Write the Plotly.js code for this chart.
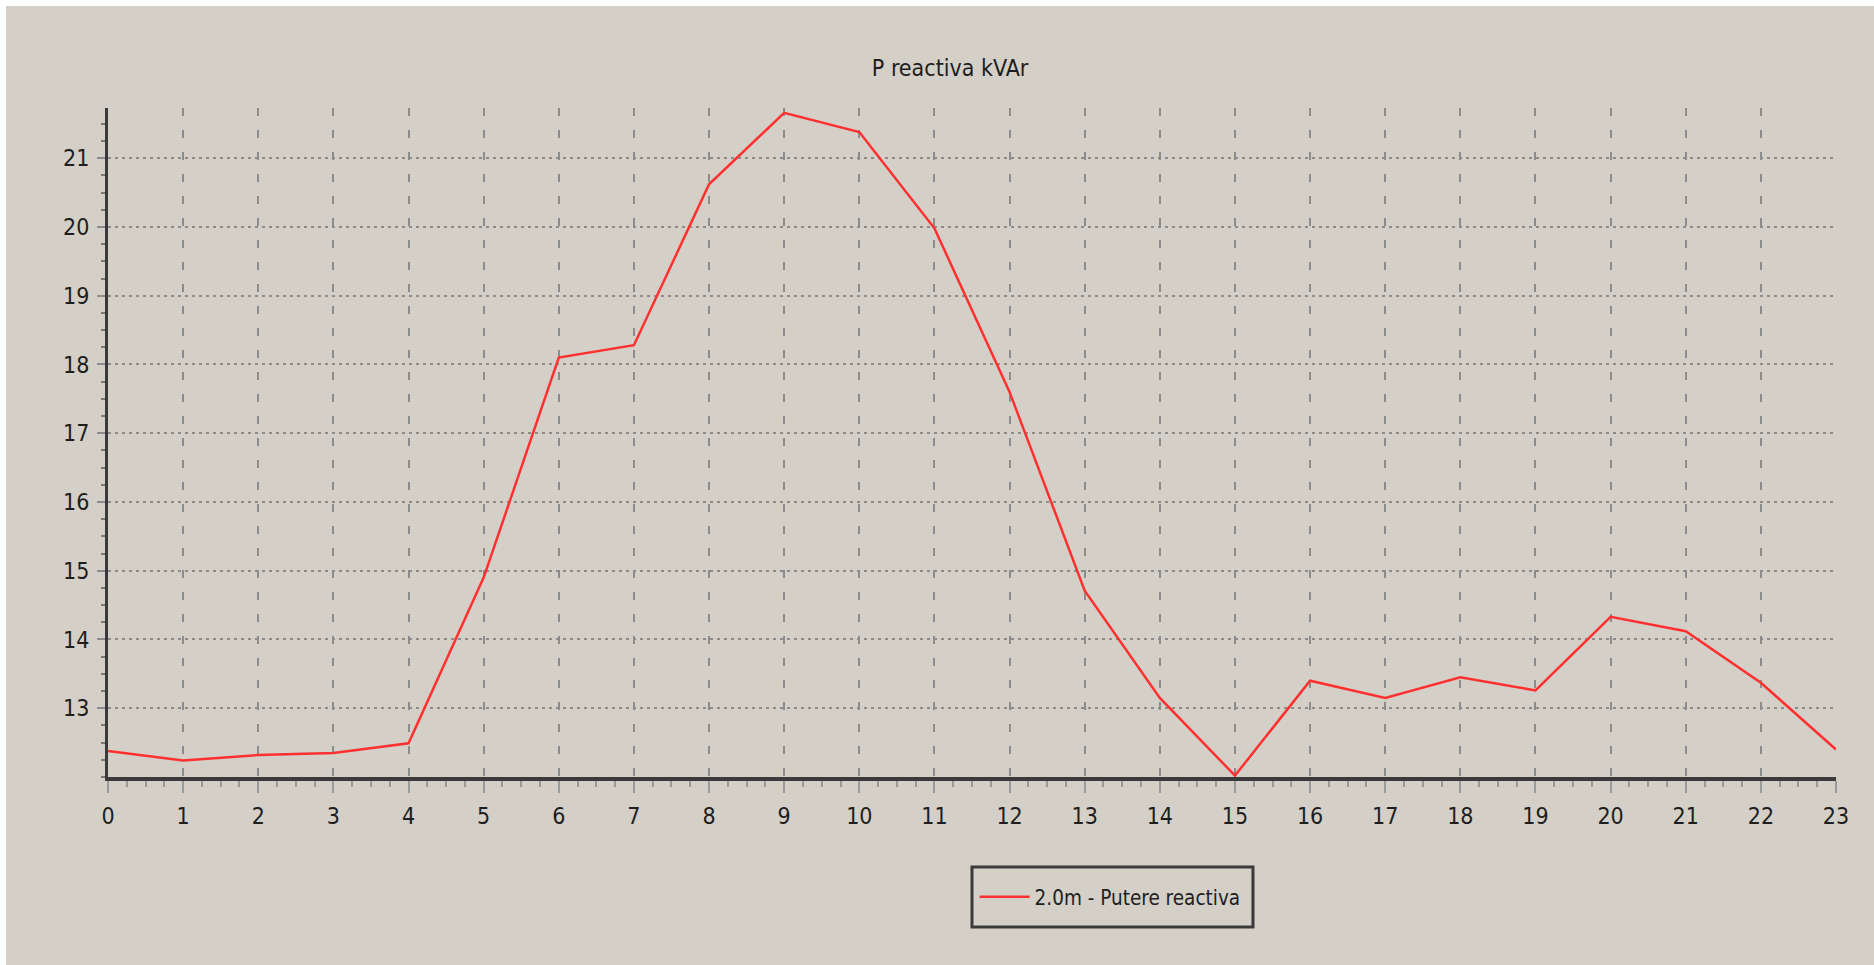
<!DOCTYPE html>
<html>
<head>
<meta charset="utf-8">
<script src="https://cdn.plot.ly/plotly-3.0.1.min.js"></script>
<style>
  html, body { margin: 0; padding: 0; background: #ffffff; width: 1874px; height: 965px; overflow: hidden; }
  #chart { position: absolute; left: 6px; top: 6px; width: 1868px; height: 959px; }
</style>
</head>
<body>
<div id="chart"></div>
<script>
const hours = [0, 1, 2, 3, 4, 5, 6, 7, 8, 9, 10, 11, 12, 13, 14, 15, 16, 17, 18, 19, 20, 21, 22, 23];
const reactivePower = [12.38, 12.24, 12.32, 12.35, 12.49, 14.9, 18.1, 18.28, 20.62, 21.66, 21.38, 19.98,
                       17.6, 14.71, 13.15, 12.02, 13.4, 13.15, 13.45, 13.26, 14.33, 14.12, 13.37, 12.4];
const xTickVals = [0, 1, 2, 3, 4, 5, 6, 7, 8, 9, 10, 11, 12, 13, 14, 15, 16, 17, 18, 19, 20, 21, 22, 23];
const yTickVals = [13, 14, 15, 16, 17, 18, 19, 20, 21];
const seriesName = "2.0m - Putere reactiva";
const chartTitle = "P reactiva kVAr";

const FONT = "Liberation Sans Narrow, Arial Narrow, DejaVu Sans Condensed, Liberation Sans, sans-serif";
const BG = "#d4d0c8";
const TXT = "#1e1e1e";
const GRID = "#8c8c8c";

const trace = {
  x: hours,
  y: reactivePower,
  type: "scatter",
  mode: "lines",
  name: seriesName,
  line: { color: "#ff3030", width: 2.5 },
  showlegend: true,
  hoverinfo: "x+y"
};

const layout = {
  width: 1868,
  height: 959,
  paper_bgcolor: BG,
  plot_bgcolor: BG,
  margin: { l: 102, r: 38, t: 102, b: 188, pad: 0 },
  showlegend: true,
  title: {
    text: chartTitle,
    font: { family: FONT, size: 23, color: TXT },
    xref: "container", x: 0.5054, xanchor: "center",
    yref: "container", y: 0.9353, yanchor: "middle"
  },
  xaxis: {
    range: [0, 23],
    tickmode: "array",
    tickvals: xTickVals,
    ticktext: xTickVals.map(String),
    ticks: "outside",
    ticklen: 12,
    tickwidth: 2,
    tickcolor: "#9a9a9a",
    showline: true,
    linecolor: "#3a3a3a",
    linewidth: 4,
    showgrid: true,
    gridcolor: GRID,
    gridwidth: 2,
    griddash: "8px,14px",
    zeroline: false,
    tickfont: { family: FONT, size: 23, color: TXT },
    ticklabelstandoff: 3,
    minor: { dtick: 0.25, tick0: 0, ticks: "outside", ticklen: 6, tickwidth: 2, tickcolor: "#9a9a9a", showgrid: false },
    fixedrange: true
  },
  yaxis: {
    range: [12, 21.73],
    tickmode: "array",
    tickvals: yTickVals,
    ticktext: yTickVals.map(String),
    ticks: "outside",
    ticklen: 8,
    tickwidth: 2,
    tickcolor: "#8c8c8c",
    showline: true,
    linecolor: "#3a3a3a",
    linewidth: 3,
    showgrid: true,
    gridcolor: GRID,
    gridwidth: 2,
    griddash: "3px,4px",
    zeroline: false,
    tickfont: { family: FONT, size: 23, color: TXT },
    ticklabelstandoff: 3,
    minor: { dtick: 0.25, tick0: 12, ticks: "outside", ticklen: 4, tickwidth: 2, tickcolor: "#7a7a7a", showgrid: false },
    fixedrange: true
  },
  legend: {
    x: 0.5015, xanchor: "left",
    y: -0.1794, yanchor: "middle",
    bgcolor: "rgba(0,0,0,0)",
    borderwidth: 0,
    itemwidth: 50,
    font: { family: FONT, size: 20.5, color: TXT },
    orientation: "v"
  },
  shapes: [{
    type: "rect",
    xref: "paper", yref: "paper",
    x0: 0.5, x1: 0.6626, y0: -0.2242, y1: -0.1345,
    line: { color: "#3a3a3a", width: 3 },
    fillcolor: BG,
    layer: "below"
  }]
};

Plotly.newPlot("chart", [trace], layout, { displayModeBar: false, staticPlot: true });
</script>
</body>
</html>
